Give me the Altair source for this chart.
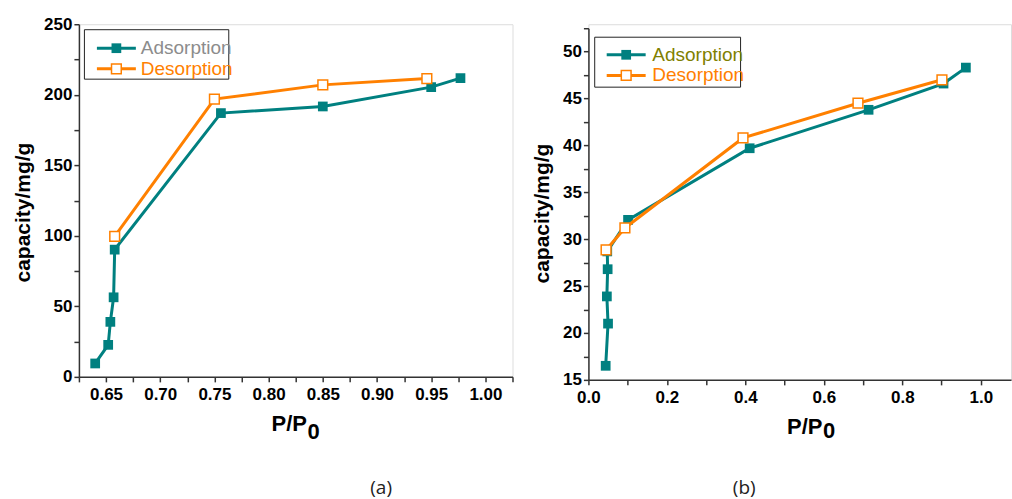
import altair as alt
import pandas as pd

# ---------------- data ----------------
series = ["Adsorption", "Desorption"]

a_ads_x = [0.640, 0.652, 0.654, 0.657, 0.658, 0.756, 0.850, 0.950, 0.977]
a_ads_y = [9.5, 22.7, 39.0, 56.4, 90.2, 187.0, 191.7, 205.4, 211.8]
a_des_x = [0.658, 0.750, 0.850, 0.946]
a_des_y = [99.6, 196.9, 207.0, 211.5]

b_ads_x = [0.044, 0.050, 0.047, 0.049, 0.048, 0.101, 0.411, 0.714, 0.905, 0.962]
b_ads_y = [16.5, 21.0, 23.9, 26.8, 28.7, 32.06, 39.7, 43.8, 46.6, 48.3]
b_des_x = [0.045, 0.093, 0.394, 0.687, 0.901]
b_des_y = [28.86, 31.2, 40.8, 44.5, 47.0]

a_xticks = [round(0.625 + 0.025 * i, 3) for i in range(17)]
a_yticks = [25 * i for i in range(11)]
b_xticks = [round(0.1 * i, 1) for i in range(11)]
b_yticks = [round(15 + 2.5 * i, 1) for i in range(16)]

captions = ["(a)", "(b)"]
x_title = "P/P"
x_sub = "0"
y_title = "capacity/mg/g"

TEAL = "#008080"
ORANGE = "#FF8000"
AXC = "#333333"
FONT = "Liberation Sans"

AX = dict(domainColor=AXC, domainWidth=1.5, tickColor=AXC, tickWidth=1.5, tickSize=5,
          labelFont=FONT, labelFontSize=17, labelFontWeight="bold", labelColor="black",
          titleFont=FONT, titleFontWeight="bold", titleColor="black", grid=False,
          labelOverlap=False, labelFlush=False, labelBound=False)


def sdf(xs, ys):
    return pd.DataFrame({"x": xs, "y": ys, "i": list(range(len(xs)))})


def one(col, val):
    return pd.DataFrame({col: [val]})


def panel(ads_x, ads_y, des_x, des_y, xdom, xvals, xexpr, ydom, yvals, yexpr,
          w, h, ytop, title_x, sub_x, sub_y, ytitle_x, ytitle_y, leg, ads_color, caption, cap_x):
    xenc = alt.X("x:Q", scale=alt.Scale(domain=xdom, nice=False, zero=False),
                 axis=alt.Axis(values=xvals, labelExpr=xexpr, title=x_title, titleFontSize=22,
                               titleX=title_x, titleY=54, titleBaseline="alphabetic",
                               titleAlign="center", labelPadding=5, **AX))
    yenc = alt.Y("y:Q", scale=alt.Scale(domain=ydom, nice=False, zero=False, range=[h, ytop]),
                 axis=alt.Axis(values=yvals, labelExpr=yexpr, title=y_title, titleFontSize=21,
                               titleAngle=270, titleX=ytitle_x, titleY=ytitle_y,
                               titleBaseline="middle", titleAlign="center",
                               labelPadding=2, **AX))
    ads = alt.Chart(sdf(ads_x, ads_y))
    des = alt.Chart(sdf(des_x, des_y))
    l_ads = ads.mark_line(color=TEAL, strokeWidth=3).encode(x=xenc, y=yenc, order="i:Q")
    p_ads = ads.mark_point(shape="square", filled=True, size=95, color=TEAL, opacity=1).encode(x=xenc, y=yenc)
    l_des = des.mark_line(color=ORANGE, strokeWidth=3).encode(x=xenc, y=yenc, order="i:Q")
    p_des = des.mark_point(shape="square", filled=True, size=95, fill="white", stroke=ORANGE,
                           strokeWidth=1.5, opacity=1).encode(x=xenc, y=yenc)

    bx0, bx1, by0, by1, r1, r2, lx0, lx1, tx = leg
    box = alt.Chart(one("s", "box")).mark_rect(fill="white", stroke="#222222", strokeWidth=1).encode(
        x=alt.value(bx0), x2=alt.value(bx1), y=alt.value(by0), y2=alt.value(by1))
    layers = [l_ads, p_ads, l_des, p_des, box]
    for name, ry, col, filled in [(series[0], r1, TEAL, True), (series[1], r2, ORANGE, False)]:
        d = alt.Chart(one("label", name))
        layers.append(d.mark_rule(color=col, strokeWidth=3).encode(
            x=alt.value(lx0), x2=alt.value(lx1), y=alt.value(ry)))
        if filled:
            layers.append(d.mark_point(shape="square", filled=True, size=95, color=col, opacity=1).encode(
                x=alt.value((lx0 + lx1) / 2), y=alt.value(ry)))
        else:
            layers.append(d.mark_point(shape="square", filled=True, size=95, fill="white", stroke=col,
                                       strokeWidth=1.5, opacity=1).encode(
                x=alt.value((lx0 + lx1) / 2), y=alt.value(ry)))
        tcol = ads_color if filled else ORANGE
        layers.append(d.mark_text(align="left", baseline="middle", font=FONT, fontSize=19,
                                  color=tcol).encode(text="label:N", x=alt.value(tx), y=alt.value(ry)))
    layers.append(alt.Chart(one("t", x_sub)).mark_text(
        align="center", baseline="alphabetic", font=FONT, fontSize=22, fontWeight="bold",
        color="black").encode(text="t:N", x=alt.value(sub_x), y=alt.value(sub_y)))
    layers.append(alt.Chart(one("t", caption)).mark_text(
        align="center", baseline="middle", font="Open Sans", fontSize=19,
        color="#222222").encode(text="t:N", x=alt.value(cap_x), y=alt.value(464)))
    return alt.layer(*layers).properties(width=w, height=h)


pa = panel(a_ads_x, a_ads_y, a_des_x, a_des_y, [0.625, 1.025], a_xticks,
           "abs(round(datum.value*100)) % 5 == 0 ? format(datum.value, '.2f') : ''",
           [0, 250], a_yticks, "datum.value % 50 == 0 ? format(datum.value, 'd') : ''",
           434, 353, 0, 210, 235, 415, -55, 188,
           (5.5, 150, 5.5, 55, 24, 44.6, 18, 57, 62), "#8c8c8c", captions[0], 302.5)

pb = panel(b_ads_x, b_ads_y, b_des_x, b_des_y, [0, 1.077], b_xticks,
           "round(datum.value*10) % 2 == 0 ? format(datum.value, '.1f') : ''",
           [15, 52.5], b_yticks, "datum.value % 5 == 0 ? format(datum.value, 'd') : ''",
           423, 356, 4, 216, 241, 414, -46, 189,
           (6.3, 152.3, 13, 63, 30.6, 51.3, 18.3, 57.3, 64), "#808000", captions[1], 156)

chart = alt.hconcat(pa, pb, spacing=76, bounds="flush").properties(
    padding={"left": 12, "top": 14, "right": 0, "bottom": 0}
).configure_view(stroke=None).configure(background="white")

chart.save("out.html", embed_options={"renderer": "svg", "actions": False})
